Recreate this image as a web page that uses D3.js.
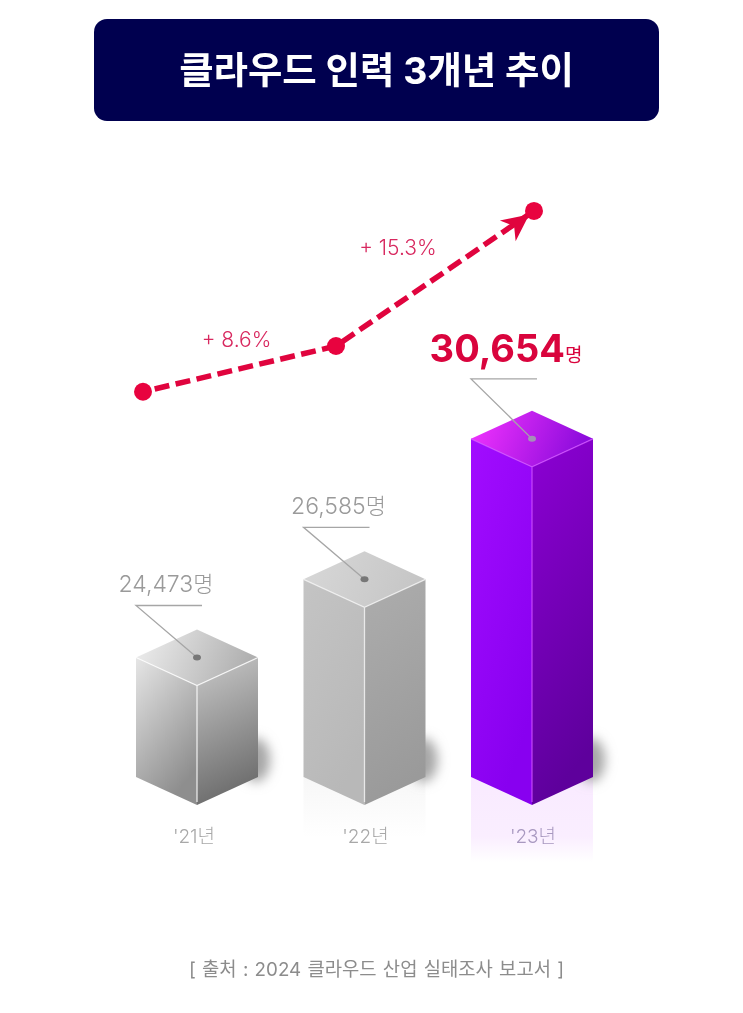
<!DOCTYPE html>
<html>
<head>
<meta charset="utf-8">
<script src="https://cdn.jsdelivr.net/npm/d3@7"></script>
<style>
  html, body { margin: 0; padding: 0; background: #fff; }
  svg { display: block; filter: blur(0.45px); }
  text { font-family: Inter, "Noto Sans CJK KR", "Noto Sans", sans-serif; }
</style>
</head>
<body>
<svg id="chart" width="743" height="1013"></svg>
<script>
const titleText = "클라우드 인력 3개년 추이";
const sourceText = "[ 출처 : 2024 클라우드 산업 실태조사 보고서 ]";
const yearLabels = ["'21년", "'22년", "'23년"];
const headcount = [24473, 26585, 30654];
const growthLabels = ["+ 8.6%", "+ 15.3%"];
const unit = "명";

const svg = d3.select("#chart");
const defs = svg.append("defs");
const fmt = d3.format(",");

// the bars are an infographic, not to zero, so the height scale has a bend in it
const x = d3.scalePoint().domain(yearLabels).range([197, 532]);
const barHeight = d3.scaleLinear().domain([24000, 27000, 31000]).range([102, 213, 350]);
const baseY = 805;   // front bottom corner
const halfW = 61;
const halfD = 28;

// trend line sits on its own scales above the bars
const trendX = d3.scaleOrdinal().domain(yearLabels).range([143, 336, 534]);
const trendY = d3.scaleLinear().domain([24000, 27000, 31000]).range([402, 337, 199]);

const palettes = [
  {
    top: ["#f0f0f0", "#b0b0b0"], left: ["#e6e6e6", "#8e8e8e"], right: ["#c9c9c9", "#6e6e6e"],
    edge: "#ffffff", text: "#9a9a9a", labelFill: "#a8a8a8"
  },
  {
    top: ["#d8d8d8", "#c6c6c6"], left: ["#c4c4c4", "#b8b8b8"], right: ["#adadad", "#9a9a9a"],
    edge: "#f4f4f4", text: "#9a9a9a", labelFill: "#a8a8a8"
  },
  {
    top: ["#f634ff", "#8c0cdc"], left: ["#a20cff", "#8800f0"], right: ["#8c00d4", "#5e009c"],
    edge: "#d050ff", text: "#d9043d", labelFill: "#a898c0"
  }
];

function gradient(id, stops, x2, y2) {
  const g = defs.append("linearGradient")
      .attr("id", id)
      .attr("x1", 0).attr("y1", 0)
      .attr("x2", x2).attr("y2", y2);
  g.append("stop").attr("offset", 0).attr("stop-color", stops[0]);
  g.append("stop").attr("offset", 1).attr("stop-color", stops[1]);
}

palettes.forEach((p, i) => {
  gradient("top" + i, p.top, 1, 0.2);
  gradient("left" + i, p.left, 0.5, 1);
  gradient("right" + i, p.right, 0.2, 1);
});

defs.append("filter").attr("id", "soft")
    .attr("x", "-80%").attr("y", "-80%").attr("width", "260%").attr("height", "260%")
  .append("feGaussianBlur").attr("stdDeviation", 6);

const reflect = defs.append("linearGradient")
    .attr("id", "reflect").attr("x1", 0).attr("y1", 0).attr("x2", 0).attr("y2", 1);
reflect.append("stop").attr("offset", 0).attr("stop-color", "#f9eaff");
reflect.append("stop").attr("offset", 0.7).attr("stop-color", "#faeeff");
reflect.append("stop").attr("offset", 1).attr("stop-color", "#ffffff");

const reflectGrey = defs.append("linearGradient")
    .attr("id", "reflectGrey").attr("x1", 0).attr("y1", 0).attr("x2", 0).attr("y2", 1);
reflectGrey.append("stop").attr("offset", 0).attr("stop-color", "#f7f7f7");
reflectGrey.append("stop").attr("offset", 1).attr("stop-color", "#ffffff");

// title
svg.append("rect")
    .attr("x", 94).attr("y", 19)
    .attr("width", 565).attr("height", 102)
    .attr("rx", 13)
    .attr("fill", "#00004f");

svg.append("text")
    .attr("x", 376.5).attr("y", 84)
    .attr("text-anchor", "middle")
    .attr("font-size", 37.4)
    .attr("font-weight", 700)
    .attr("fill", "#fff")
    .text(titleText);

// bars
const rows = yearLabels.map((year, i) => ({ year, value: headcount[i], i }));
const line = d3.line();

const bar = svg.selectAll("g.bar")
  .data(rows)
  .enter()
  .append("g")
    .attr("class", "bar");

// reflection under the bars
bar.filter(d => d.i > 0).append("path")
    .attr("d", d => {
      const c = x(d.year);
      const bottom = d.i === 2 ? 862 : 838;
      return line([[c - halfW, baseY - halfD], [c, baseY], [c + halfW, baseY - halfD], [c + halfW, bottom], [c - halfW, bottom]]);
    })
    .attr("fill", d => d.i === 2 ? "url(#reflect)" : "url(#reflectGrey)");

// shadow to the right of the base
bar.append("ellipse")
    .attr("cx", d => x(d.year) + halfW - 2)
    .attr("cy", baseY - 45)
    .attr("rx", 14)
    .attr("ry", 22)
    .attr("fill", "#a6a6a6")
    .attr("filter", "url(#soft)");

// faces
bar.append("path")
    .attr("d", d => {
      const c = x(d.year), h = barHeight(d.value);
      return line([[c - halfW, baseY - halfD - h], [c, baseY - h], [c, baseY], [c - halfW, baseY - halfD]]) + "Z";
    })
    .attr("fill", d => `url(#left${d.i})`);

bar.append("path")
    .attr("d", d => {
      const c = x(d.year), h = barHeight(d.value);
      return line([[c + halfW, baseY - halfD - h], [c, baseY - h], [c, baseY], [c + halfW, baseY - halfD]]) + "Z";
    })
    .attr("fill", d => `url(#right${d.i})`);

bar.append("path")
    .attr("d", d => {
      const c = x(d.year), h = barHeight(d.value), t = baseY - h;
      return line([[c - halfW, t - halfD], [c, t - 2 * halfD], [c + halfW, t - halfD], [c, t]]) + "Z";
    })
    .attr("fill", d => `url(#top${d.i})`);

// light edges
bar.append("path")
    .attr("d", d => {
      const c = x(d.year), h = barHeight(d.value), t = baseY - h;
      return line([[c - halfW, t - halfD], [c, t], [c + halfW, t - halfD]]) + `M${c},${t}L${c},${baseY - 3}`;
    })
    .attr("fill", "none")
    .attr("stroke", d => palettes[d.i].edge)
    .attr("stroke-opacity", 0.8)
    .attr("stroke-width", 1.3);

// leader line from the label to the dot on the top face
bar.append("path")
    .attr("d", d => {
      const c = x(d.year), t = baseY - barHeight(d.value) - halfD;
      const rise = d.i === 2 ? 60 : 52;
      return line([[c + 5, t - rise], [c - 61, t - rise], [c, t]]);
    })
    .attr("fill", "none")
    .attr("stroke", "#a6a6a6")
    .attr("stroke-width", 1.3);

bar.append("ellipse")
    .attr("cx", d => x(d.year))
    .attr("cy", d => baseY - barHeight(d.value) - halfD)
    .attr("rx", 4)
    .attr("ry", 3)
    .attr("fill", d => d.i === 2 ? "#a58fb8" : "#777");

// value labels, the last one is the big red one
const value = bar.append("text")
    .attr("x", d => x(d.year) - (d.i === 0 ? 31 : d.i === 1 ? 26 : 26))
    .attr("y", d => baseY - barHeight(d.value) - halfD - (d.i === 2 ? 77 : 65))
    .attr("text-anchor", "middle")
    .attr("fill", d => palettes[d.i].text)
    .attr("font-size", d => d.i === 2 ? 38 : 23)
    .attr("font-weight", d => d.i === 2 ? 700 : 300);

value.append("tspan").text(d => fmt(d.value));
value.append("tspan")
    .attr("font-size", d => d.i === 2 ? 19 : 22)
    .attr("font-weight", d => d.i === 2 ? 400 : 300)
    .text(unit);

// year labels
bar.append("text")
    .attr("x", d => x(d.year) + (d.i === 0 ? -3 : 1))
    .attr("y", 843)
    .attr("text-anchor", "middle")
    .attr("font-size", 19)
    .attr("font-weight", 300)
    .attr("fill", d => palettes[d.i].labelFill)
    .text(d => d.year);

// trend
const trend = rows.map(d => [trendX(d.year), trendY(d.value)]);

svg.append("path")
    .attr("d", line(trend))
    .attr("fill", "none")
    .attr("stroke", "#e0043e")
    .attr("stroke-width", 5.5)
    .attr("stroke-dasharray", "15 6.5")
    .attr("stroke-dashoffset", -12);

const last = trend[trend.length - 1];
const prev = trend[trend.length - 2];
const angle = Math.atan2(last[1] - prev[1], last[0] - prev[0]) * 180 / Math.PI;

svg.append("path")
    .attr("transform", `translate(${last[0]},${last[1]}) rotate(${angle - 3})`)
    .attr("d", line([[-6, 0], [-33, -13], [-25, 0], [-33, 13]]) + "Z")
    .attr("fill", "#e0043e");

svg.selectAll("circle.trend")
  .data(trend)
  .enter()
  .append("circle")
    .attr("class", "trend")
    .attr("cx", d => d[0])
    .attr("cy", d => d[1])
    .attr("r", 9)
    .attr("fill", "#e8033f");

// growth labels, above the middle of each segment
svg.selectAll("text.growth")
  .data(growthLabels)
  .enter()
  .append("text")
    .attr("class", "growth")
    .attr("x", (d, i) => (trend[i][0] + trend[i + 1][0]) / 2 + (i === 0 ? -3 : -37))
    .attr("y", (d, i) => (trend[i][1] + trend[i + 1][1]) / 2 + (i === 0 ? -22 : -23))
    .attr("text-anchor", "middle")
    .attr("font-size", 21)
    .attr("font-weight", 300)
    .attr("fill", "#d8285f")
    .text(d => d);

// source
svg.append("text")
    .attr("x", 376.5).attr("y", 976)
    .attr("text-anchor", "middle")
    .attr("font-size", 18.8)
    .attr("word-spacing", 1)
    .attr("fill", "#8c8c8c")
    .text(sourceText);
</script>
</body>
</html>
